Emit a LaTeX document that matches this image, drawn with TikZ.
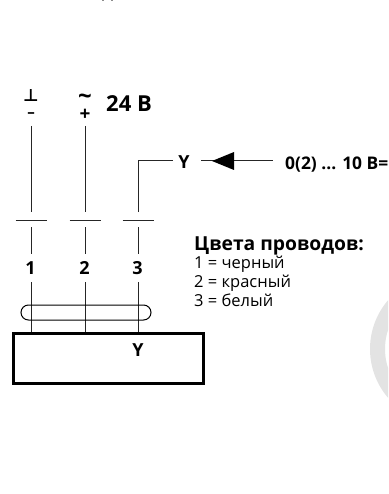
\documentclass[tikz,border=0pt]{standalone}
\usepackage{fontspec}
\setmainfont{Open Sans}
\newfontfamily\symf{DejaVu Sans}
\tikzset{
  wire/.style={line width=1pt,draw=black!85},
  lab/.style={font=\bfseries\fontsize{18}{18}\selectfont,inner sep=0pt},
  leg/.style={font=\fontsize{16.5}{16.5}\selectfont,inner sep=0pt,anchor=base west},
}
\begin{document}
\begin{tikzpicture}[x=1pt,y=-1pt]
\useasboundingbox (0,0) rectangle (388,494);
\begin{scope}
\clip (0,0) rectangle (388,494);
\draw[line width=15pt,draw=black!11] (445,349) circle (67.5);
\fill[black!45] (102,0) rectangle (104,1);
\fill[black!45] (111,0) rectangle (113,1);
\end{scope}
% symbols
\node[inner sep=0pt] (gnd) at (31,95.5) {\symf\bfseries\fontsize{17}{17}\selectfont ⊥};
\node[lab,font=\bfseries\fontsize{15}{15}\selectfont] (minus) at (31,115) {–};
\node[inner sep=0pt,font=\bfseries\fontsize{24}{24}\selectfont] (tilde) at (85,99) {\char"007E};
\node[lab,font=\bfseries\fontsize{19}{19}\selectfont] (plus) at (85,114.5) {+};
\node[lab,font=\bfseries\fontsize{22}{22}\selectfont,anchor=west] (volt) at (106,104) {24 В};
% contacts
\foreach \n/\x in {a/31,b/85,c/138}{
  \coordinate (\n-top) at (\x,126);
  \coordinate (\n-up) at (\x,212);
  \coordinate (\n-lo) at (\x,227);
  \coordinate (\n-ln) at (\x,254);
  \coordinate (\n-w) at (\x-15.5,220);
  \coordinate (\n-e) at (\x+15.5,220);
  \coordinate (\n-in) at (\x,282);
  \coordinate (\n-bx) at (\x,333);
  \draw[wire] (\n-w) -- (\n-e);
  \draw[wire] (\n-lo) -- (\n-ln);
  \draw[wire] (\n-in) -- (\n-bx);
}
\draw[wire] (a-top) -- (a-up);
\draw[wire] (b-top) -- (b-up);
\node[lab] (n1) at (30.5,268) {1};
\node[lab] (n2) at (84.5,268) {2};
\node[lab] (n3) at (137.5,268) {3};
% Y
\node[lab] (y1) at (184,162) {Y};
\coordinate (yc) at (173,161);
\draw[wire] (c-up) -- (138,161) -- (yc);
\coordinate (ys) at (201,161);
\coordinate (ye) at (273,161);
\node[lab,anchor=west,font=\bfseries\fontsize{17.4}{17.4}\selectfont] (sig) at (285,165) {0(2) ... 10 В=};
\draw[wire] (ys) -- (ye);
\coordinate (tip) at (212,161);
\fill[black] (tip) -- (234,152) -- (234,170) -- cycle;
% capsule
\draw[line width=1pt,rounded corners=7.5pt] (21,305) rectangle (151,320);
% box
\node[draw,line width=3pt,minimum width=190pt,minimum height=50pt,inner sep=0pt] (box) at (108,358) {};
\node[lab] (y2) at (138,350) {Y};
% legend
\node[inner sep=0pt,anchor=base west,font=\bfseries\fontsize{19.3}{19.3}\selectfont] (t) at (194,250) {Цвета проводов:};
\node[leg] (l1) at (194,268) {1 = черный};
\node[leg] (l2) at (194,287) {2 = красный};
\node[leg] (l3) at (194,306) {3 = белый};
\end{tikzpicture}
\end{document}
